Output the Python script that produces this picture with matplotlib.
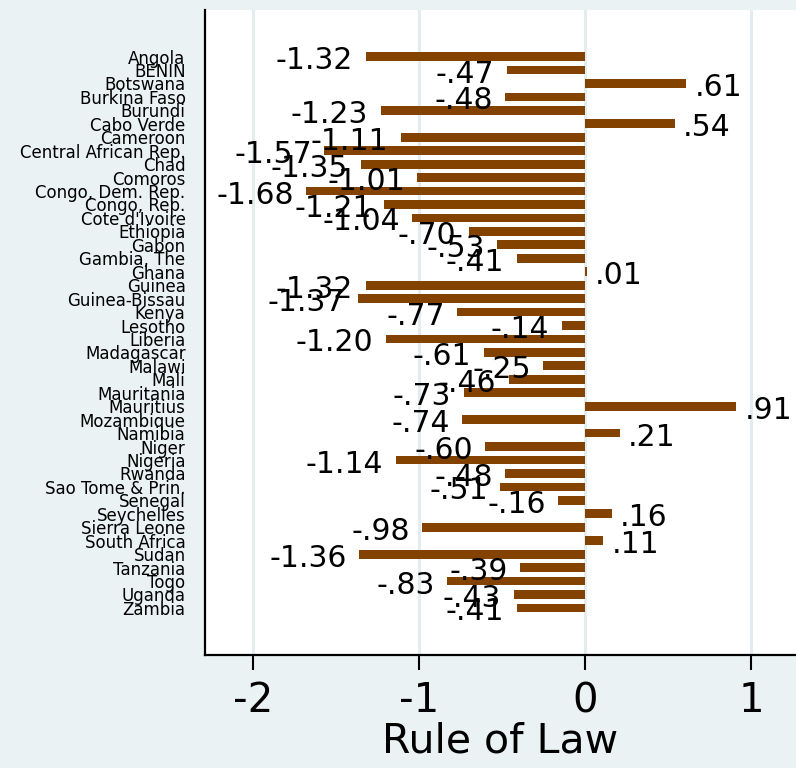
"""
Horizontal bar chart: Rule of Law scores for African countries.
"""
import matplotlib
matplotlib.use("Agg")
import matplotlib.pyplot as plt
import numpy as np

countries = [
    "Angola", "BENIN", "Botswana", "Burkina Faso", "Burundi", "Cabo Verde",
    "Cameroon", "Central African Rep.", "Chad", "Comoros", "Congo, Dem. Rep.",
    "Congo, Rep.", "Cote d'Ivoire", "Ethiopia", "Gabon", "Gambia, The",
    "Ghana", "Guinea", "Guinea-Bissau", "Kenya", "Lesotho", "Liberia",
    "Madagascar", "Malawi", "Mali", "Mauritania", "Mauritius", "Mozambique",
    "Namibia", "Niger", "Nigeria", "Rwanda", "Sao Tome & Prin.", "Senegal",
    "Seychelles", "Sierra Leone", "South Africa", "Sudan", "Tanzania", "Togo",
    "Uganda", "Zambia",
]
rule_of_law = [
    -1.32, -0.47, 0.61, -0.48, -1.23, 0.54,
    -1.11, -1.57, -1.35, -1.01, -1.68,
    -1.21, -1.04, -0.70, -0.53, -0.41,
    0.01, -1.32, -1.37, -0.77, -0.14, -1.20,
    -0.61, -0.25, -0.46, -0.73, 0.91, -0.74,
    0.21, -0.60, -1.14, -0.48, -0.51, -0.16,
    0.16, -0.98, 0.11, -1.36, -0.39, -0.83,
    -0.43, -0.41,
]
x_ticks = [-2, -1, 0, 1]

BG = "#EAF2F3"
BAR = "#844200"


def fmt(v):
    s = f"{abs(v):.2f}"
    if s.startswith("0"):
        s = s[1:]
    return ("-" if v < 0 else "") + s


def main():
    plt.rcParams["font.family"] = ["DejaVu Sans"]
    plt.rcParams["axes.unicode_minus"] = False

    fig = plt.figure(figsize=(7.96, 7.68), dpi=100, facecolor=BG)
    ax = fig.add_axes([205 / 796, 113 / 768, 1 - 205 / 796, (655 - 9.5) / 768])
    ax.set_facecolor("white")

    y = np.arange(len(countries))
    ax.barh(y, rule_of_law, height=0.65, color=BAR, zorder=2)

    for yi, v in zip(y, rule_of_law):
        if v < 0:
            ax.annotate(fmt(v), (v, yi), xytext=(-9, -9), textcoords="offset points",
                        ha="right", va="baseline", fontsize=21.5, zorder=3)
        else:
            ax.annotate(fmt(v), (v, yi), xytext=(6, -9), textcoords="offset points",
                        ha="left", va="baseline", fontsize=21.5, zorder=3)

    ax.set_xlim(-2.289, 1.271)
    ax.set_ylim(len(countries) - 1 + 3.5, -3.5)

    ax.set_yticks(y)
    ax.set_yticklabels(countries, fontsize=12)
    ax.tick_params(axis="y", length=0, pad=14)

    ax.set_xticks(x_ticks)
    ax.set_xticklabels([str(t) for t in x_ticks], fontsize=29)
    ax.tick_params(axis="x", length=11, width=1.5, pad=8)
    ax.set_xlabel("Rule of Law", fontsize=29.5, labelpad=0)

    ax.grid(axis="x", color="#E3ECEF", linewidth=2.2, zorder=0)
    ax.set_axisbelow(True)

    for side in ["top", "right"]:
        ax.spines[side].set_visible(False)
    ax.spines["left"].set_linewidth(1.6)
    ax.spines["bottom"].set_linewidth(1.6)

    fig.savefig("out.png", dpi=100, facecolor=BG)
    plt.close(fig)


if __name__ == "__main__":
    main()
